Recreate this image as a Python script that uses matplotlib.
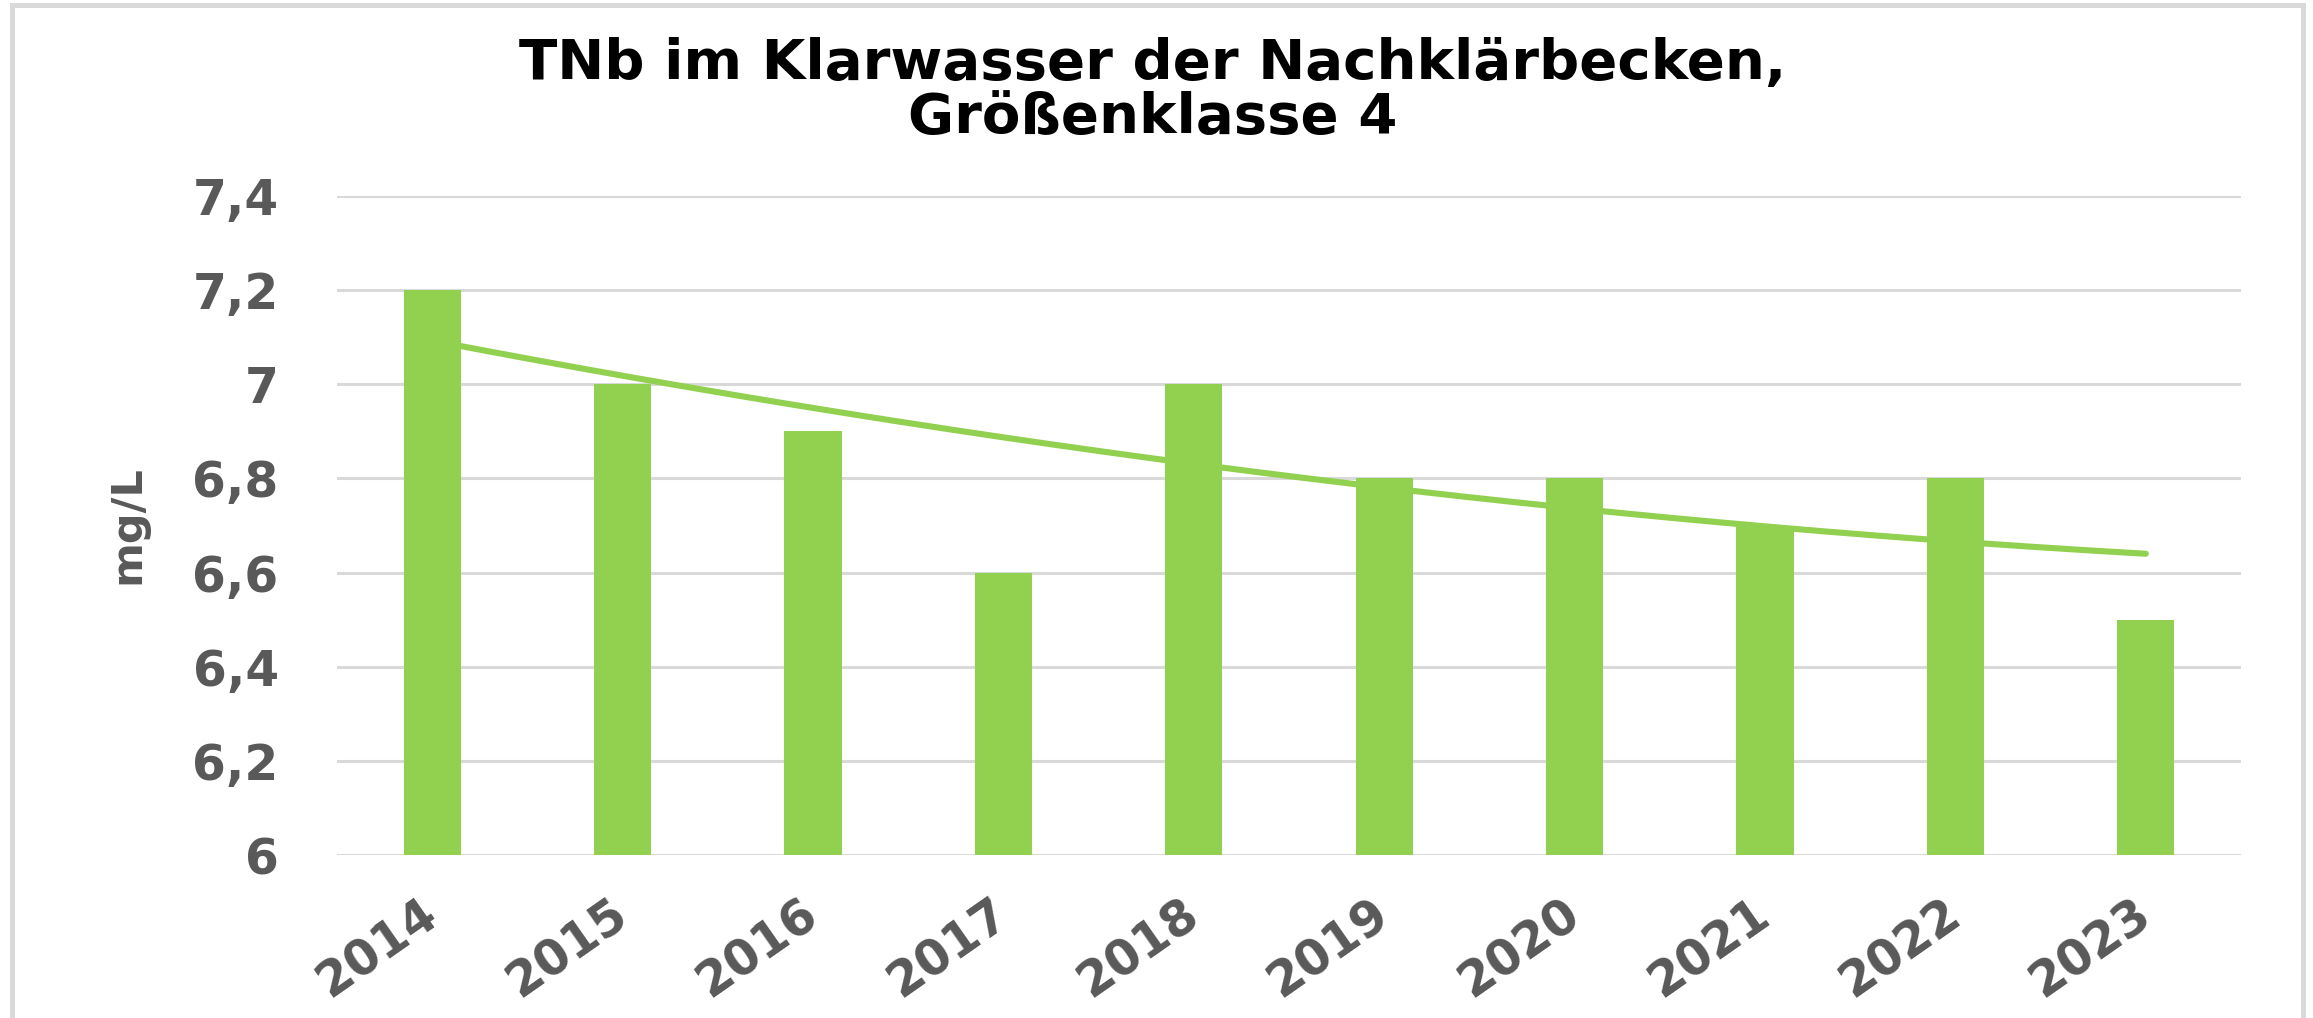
import numpy as np
import matplotlib
matplotlib.use("Agg")
import matplotlib.pyplot as plt
from matplotlib.patches import Rectangle

# ---- data ----
years = ["2014", "2015", "2016", "2017", "2018", "2019", "2020", "2021", "2022", "2023"]
tnb_values = [7.2, 7.0, 6.9, 6.6, 7.0, 6.8, 6.8, 6.7, 6.8, 6.5]
y_ticks = [6.0, 6.2, 6.4, 6.6, 6.8, 7.0, 7.2, 7.4]
y_tick_labels = ["6", "6,2", "6,4", "6,6", "6,8", "7", "7,2", "7,4"]
title_line1 = "TNb im Klarwasser der Nachklärbecken,"
title_line2 = "Größenklasse 4"
y_label = "mg/L"

GREEN = "#92D050"
GRID = "#D9D9D9"
TXT = "#595959"

W, H = 2313, 1018
fig = plt.figure(figsize=(W / 100, H / 100), dpi=100)
fig.patch.set_facecolor("white")

# axes placement (pixels measured on the reference)
left, right, top, bottom = 337, 2241, 196, 855
ax = fig.add_axes([left / W, 1 - bottom / H, (right - left) / W, (bottom - top) / H])

x = np.arange(len(years))
ax.bar(x, tnb_values, width=0.30, color=GREEN, zorder=3)

# polynomial (order 2) trendline of the series, drawn behind the bars
coef = np.polyfit(x, tnb_values, 2)
xt = np.linspace(x[0], x[-1], 300)
ax.plot(xt, np.polyval(coef, xt), color=GREEN, lw=4.4, zorder=2,
        solid_capstyle="round")

ax.set_xlim(-0.5, len(years) - 0.5)
ax.set_ylim(6.0, 7.4)
ax.set_yticks(y_ticks)
ax.set_yticklabels(y_tick_labels)
ax.set_xticks(x)
ax.set_xticklabels(years)

for yv in y_ticks:
    ax.axhline(yv, color=GRID, lw=2.2, zorder=0)

for s in ax.spines.values():
    s.set_visible(False)

ax.tick_params(axis="y", length=0, pad=42, labelsize=35, labelcolor=TXT)
ax.tick_params(axis="x", length=0, pad=39, labelsize=35, labelcolor=TXT)
for lab in ax.get_yticklabels():
    lab.set_fontweight("bold")
for lab in ax.get_xticklabels():
    lab.set_fontweight("bold")
    lab.set_rotation(35)
    lab.set_ha("right")
    lab.set_va("center")
    lab.set_rotation_mode("anchor")

# y label
fig.text(127 / W, 1 - 525 / H, y_label, rotation=90, ha="center", va="center",
         fontsize=31, fontweight="bold", color=TXT)

# title (two lines)
fig.text(0.4985, 1 - 79 / H, title_line1, ha="center", va="baseline",
         fontsize=40.5, fontweight="bold", color="black")
fig.text(0.4985, 1 - 133 / H, title_line2, ha="center", va="baseline",
         fontsize=40.5, fontweight="bold", color="black")

# outer chart border (no bottom edge visible in the reference)
fig.patches.append(Rectangle((12 / W, -0.05), (2303 - 12) / W, 1.05 - 5 / H,
                             transform=fig.transFigure, fill=False,
                             edgecolor=GRID, lw=3.6))

fig.savefig("out.png", dpi=100)
